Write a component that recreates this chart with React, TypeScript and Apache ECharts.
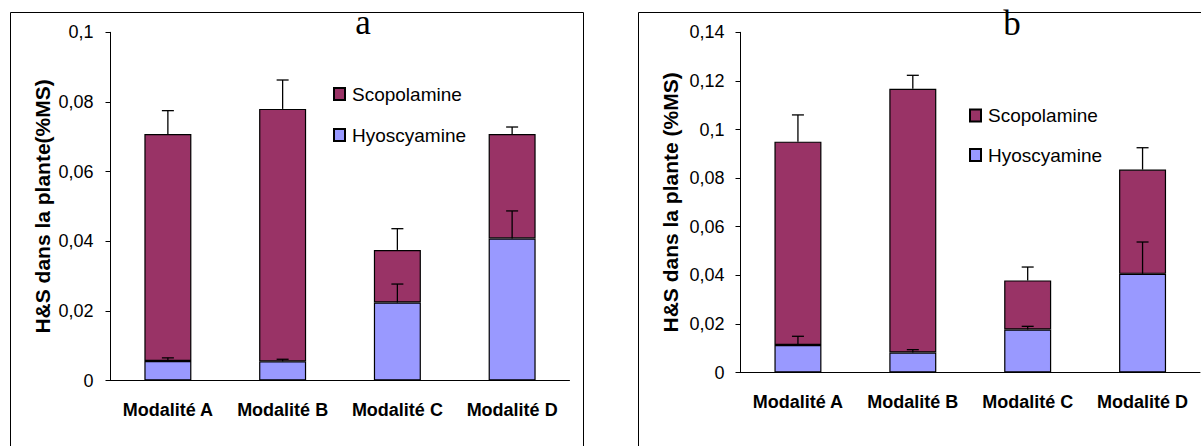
import React, { useEffect, useRef } from "react";
import * as echarts from "echarts";

// ---------- data ----------
const categories = ["Modalité A", "Modalité B", "Modalité C", "Modalité D"];
const seriesNames = ["Scopolamine", "Hyoscyamine"];

// Panel a
const hyoA = [0.0056, 0.0055, 0.0224, 0.0408];
const scopA = [0.0652, 0.0725, 0.0151, 0.03];
const hyoErrA = [0.0009, 0.0006, 0.0053, 0.0079];
const totalErrA = [0.0067, 0.0083, 0.0061, 0.002];
const yTicksA = { min: 0, max: 0.1, interval: 0.02 };

// Panel b
const hyoB = [0.0113, 0.0082, 0.0177, 0.0406];
const scopB = [0.0837, 0.1086, 0.0202, 0.0429];
const hyoErrB = [0.0036, 0.0012, 0.0013, 0.0131];
const totalErrB = [0.011, 0.0055, 0.0055, 0.009];
const yTicksB = { min: 0, max: 0.14, interval: 0.02 };

const titleA = "a";
const titleB = "b";
const yNameA = "H&S dans la plante(%MS)";
const yNameB = "H&S dans la plante (%MS)";

const SCOP_COLOR = "#993366";
const HYO_COLOR = "#9999FF";
const FONT = '"Liberation Sans", Arial, sans-serif';

const fmt = (v: number) => String(Number(v.toFixed(4))).replace(".", ",");

function errorRender(params: any, api: any) {
  const x = api.value(0);
  const top = api.value(1);
  const sd = api.value(2);
  const p0 = api.coord([x, top]);
  const p1 = api.coord([x, top + sd]);
  const cap = 6;
  const style = { stroke: "#000", lineWidth: 1.3 };
  return {
    type: "group",
    children: [
      { type: "line", shape: { x1: p0[0], y1: p0[1], x2: p1[0], y2: p1[1] }, style },
      { type: "line", shape: { x1: p1[0] - cap, y1: p1[1], x2: p1[0] + cap, y2: p1[1] }, style },
    ],
  };
}

function panelSeries(idx: number, hyo: number[], scop: number[], hyoErr: number[], totErr: number[]) {
  const stack = "s" + idx;
  const common = {
    type: "bar",
    xAxisIndex: idx,
    yAxisIndex: idx,
    stack,
    barWidth: 47,
  };
  return [
    {
      ...common,
      name: "Hyoscyamine",
      data: hyo,
      itemStyle: { color: HYO_COLOR, borderColor: "#000", borderWidth: 1.2 },
    },
    {
      ...common,
      name: "Scopolamine",
      data: scop,
      itemStyle: { color: SCOP_COLOR, borderColor: "#000", borderWidth: 1.2 },
    },
    {
      type: "custom",
      name: "errHyo" + idx,
      xAxisIndex: idx,
      yAxisIndex: idx,
      z: 10,
      renderItem: errorRender,
      encode: { x: 0, y: 1 },
      data: hyo.map((h, i) => [i, h, hyoErr[i]]),
    },
    {
      type: "custom",
      name: "errTot" + idx,
      xAxisIndex: idx,
      yAxisIndex: idx,
      z: 10,
      renderItem: errorRender,
      encode: { x: 0, y: 1 },
      data: hyo.map((h, i) => [i, h + scop[i], totErr[i]]),
    },
  ];
}

function xAxis(idx: number) {
  return {
    type: "category",
    gridIndex: idx,
    data: categories,
    axisLine: { lineStyle: { color: "#000", width: 1 } },
    axisTick: { length: 5, lineStyle: { color: "#000" } },
    axisLabel: {
      interval: 0,
      margin: 20,
      color: "#000",
      fontFamily: FONT,
      fontSize: 18,
      fontWeight: "bold",
    },
  };
}

function yAxis(idx: number, t: { min: number; max: number; interval: number }, name: string, gap: number, margin: number) {
  return {
    type: "value",
    gridIndex: idx,
    min: t.min,
    max: t.max,
    interval: t.interval,
    name,
    nameLocation: "middle",
    nameRotate: 90,
    nameGap: gap,
    nameTextStyle: { color: "#000", fontFamily: FONT, fontSize: 21, fontWeight: "bold" },
    splitLine: { show: false },
    axisLine: { show: true, lineStyle: { color: "#000", width: 1 } },
    axisTick: { show: true, length: 5, lineStyle: { color: "#000" } },
    axisLabel: {
      margin,
      color: "#000",
      fontFamily: FONT,
      fontSize: 18,
      formatter: fmt,
    },
  };
}

function legend(left: number, top: number, gap: number) {
  return {
    data: seriesNames,
    orient: "vertical",
    left,
    top,
    padding: 0,
    icon: "rect",
    itemWidth: 11,
    itemHeight: 12,
    itemGap: gap,
    selectedMode: false,
    textStyle: { color: "#000", fontFamily: FONT, fontSize: 19, lineHeight: 20, padding: [0, 0, 0, 2] },
  };
}

export default function App() {
  const ref = useRef<HTMLDivElement>(null);
  useEffect(() => {
    if (!ref.current) return;
    const chart = echarts.init(ref.current, undefined, { renderer: "svg" });
    chart.setOption({
      animation: false,
      backgroundColor: "#fff",
      grid: [
        { left: 110.5, top: 32.3, width: 459, height: 348.2 },
        { left: 740.5, top: 32.3, width: 459.5, height: 340.2 },
      ],
      xAxis: [xAxis(0), xAxis(1)],
      yAxis: [yAxis(0, yTicksA, yNameA, 58, 17), yAxis(1, yTicksB, yNameB, 60, 16)],
      legend: [legend(333, 84, 21), legend(969, 105.5, 19.5)],
      series: [
        ...panelSeries(0, hyoA, scopA, hyoErrA, totalErrA),
        ...panelSeries(1, hyoB, scopB, hyoErrB, totalErrB),
      ],
      graphic: [
        {
          type: "rect",
          shape: { x: 10.5, y: 12.5, width: 573, height: 450 },
          style: { fill: "none", stroke: "#000", lineWidth: 1 },
          z: 0,
        },
        {
          type: "rect",
          shape: { x: 638.5, y: 12.5, width: 600, height: 450 },
          style: { fill: "none", stroke: "#000", lineWidth: 1 },
          z: 0,
        },
        {
          type: "text",
          x: 363,
          y: 22,
          z: 5,
          style: {
            text: titleA,
            fill: "#000",
            font: '35px "Liberation Serif", "Times New Roman", serif',
            textAlign: "center",
            textVerticalAlign: "middle",
          },
        },
        {
          type: "text",
          x: 1012,
          y: 23,
          z: 5,
          style: {
            text: titleB,
            fill: "#000",
            font: '35px "Liberation Serif", "Times New Roman", serif',
            textAlign: "center",
            textVerticalAlign: "middle",
          },
        },
      ],
    });
    return () => chart.dispose();
  }, []);
  return (
    <div
      ref={ref}
      style={{ position: "fixed", left: 0, top: 0, width: 1201, height: 446, background: "#fff" }}
    />
  );
}
